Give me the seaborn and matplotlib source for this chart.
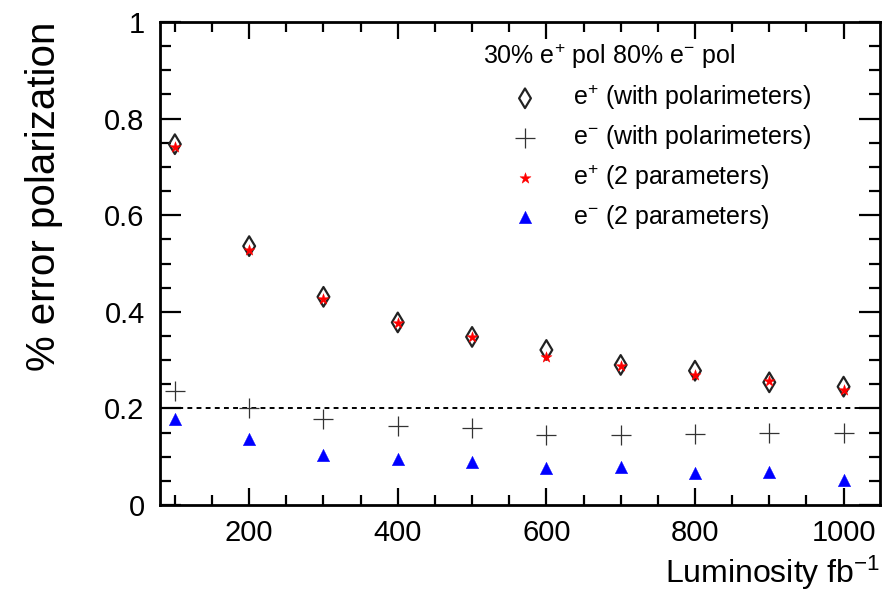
import matplotlib
matplotlib.use("Agg")
import matplotlib.pyplot as plt
from matplotlib.ticker import MultipleLocator, FormatStrFormatter
import seaborn as sns
import pandas as pd

# values
luminosity = [100, 200, 300, 400, 500, 600, 700, 800, 900, 1000]
eplus_polarimeters = [0.747, 0.536, 0.431, 0.378, 0.348, 0.321, 0.290, 0.278, 0.254, 0.245]
eminus_polarimeters = [0.235, 0.201, 0.179, 0.164, 0.159, 0.144, 0.145, 0.148, 0.149, 0.149]
eplus_2par = [0.742, 0.528, 0.426, 0.377, 0.348, 0.306, 0.288, 0.270, 0.257, 0.239]
eminus_2par = [0.179, 0.136, 0.104, 0.095, 0.088, 0.077, 0.078, 0.067, 0.068, 0.052]

legend_title = "30% e$^{+}$ pol 80% e$^{-}$ pol"
labels = ["e$^{+}$ (with polarimeters)", "e$^{-}$ (with polarimeters)",
          "e$^{+}$ (2 parameters)", "e$^{-}$ (2 parameters)"]

df = pd.DataFrame({
    "lumi": luminosity,
    "ep_pol": eplus_polarimeters,
    "em_pol": eminus_polarimeters,
    "ep_2p": eplus_2par,
    "em_2p": eminus_2par,
})

sns.set_style("ticks")
plt.rcParams["font.family"] = ["Liberation Sans", "DejaVu Sans"]
plt.rcParams["mathtext.default"] = "regular"
# ROOT-style plain black text
plt.rcParams["text.color"] = "black"
plt.rcParams["axes.labelcolor"] = "black"
plt.rcParams["xtick.color"] = "black"
plt.rcParams["ytick.color"] = "black"

fig = plt.figure(figsize=(8.92, 5.98), dpi=100)
ax = fig.add_axes([160 / 892, 1 - 505 / 598, 720 / 892, 483 / 598])

ax.axhline(0.2, color="black", linestyle=(0, (2.5, 2.2)), linewidth=1.4, zorder=1)

sns.scatterplot(data=df, x="lumi", y="ep_pol", ax=ax, marker="d", s=100,
                facecolor="none", edgecolor="#222222", linewidth=1.6,
                label=labels[0], zorder=3)
sns.scatterplot(data=df, x="lumi", y="em_pol", ax=ax, marker="+", s=190,
                color="#333333", linewidth=0.9, label=labels[1], zorder=3)
sns.scatterplot(data=df, x="lumi", y="ep_2p", ax=ax, marker="*", s=70,
                color="red", edgecolor="red", linewidth=0.3,
                label=labels[2], zorder=4)
sns.scatterplot(data=df, x="lumi", y="em_2p", ax=ax, marker="^", s=80,
                color="blue", edgecolor="blue", linewidth=0.3,
                label=labels[3], zorder=4)

ax.set_xlim(80, 1049)
ax.set_ylim(0, 1)

ax.xaxis.set_major_locator(MultipleLocator(200))
ax.xaxis.set_minor_locator(MultipleLocator(50))
ax.yaxis.set_major_locator(MultipleLocator(0.2))
ax.yaxis.set_minor_locator(MultipleLocator(0.05))
ax.yaxis.set_major_formatter(FormatStrFormatter("%g"))

ax.tick_params(which="both", direction="in", top=True, right=True,
               width=1.6, labelsize=21, color="black", labelcolor="black")
ax.tick_params(axis="y", which="major", length=15, pad=11)
ax.tick_params(axis="y", which="minor", length=8)
ax.tick_params(axis="x", which="major", length=12, pad=10)
ax.tick_params(axis="x", which="minor", length=7)
for sp in ax.spines.values():
    sp.set_linewidth(2)
    sp.set_color("black")

ax.set_xlabel("Luminosity fb$^{-1}$", fontsize=23, loc="right", labelpad=5)
ax.set_ylabel("% error polarization", fontsize=29, loc="top", labelpad=30)

leg = ax.legend(title=legend_title, loc="upper left",
                bbox_to_anchor=(483 / 892, 1 - 42 / 598),
                bbox_transform=fig.transFigure, frameon=False,
                fontsize=18, title_fontsize=18, alignment="left",
                borderpad=0, borderaxespad=0, handlelength=3.36,
                handletextpad=0.24, labelspacing=0.45)

fig.savefig("out.png", dpi=100)
